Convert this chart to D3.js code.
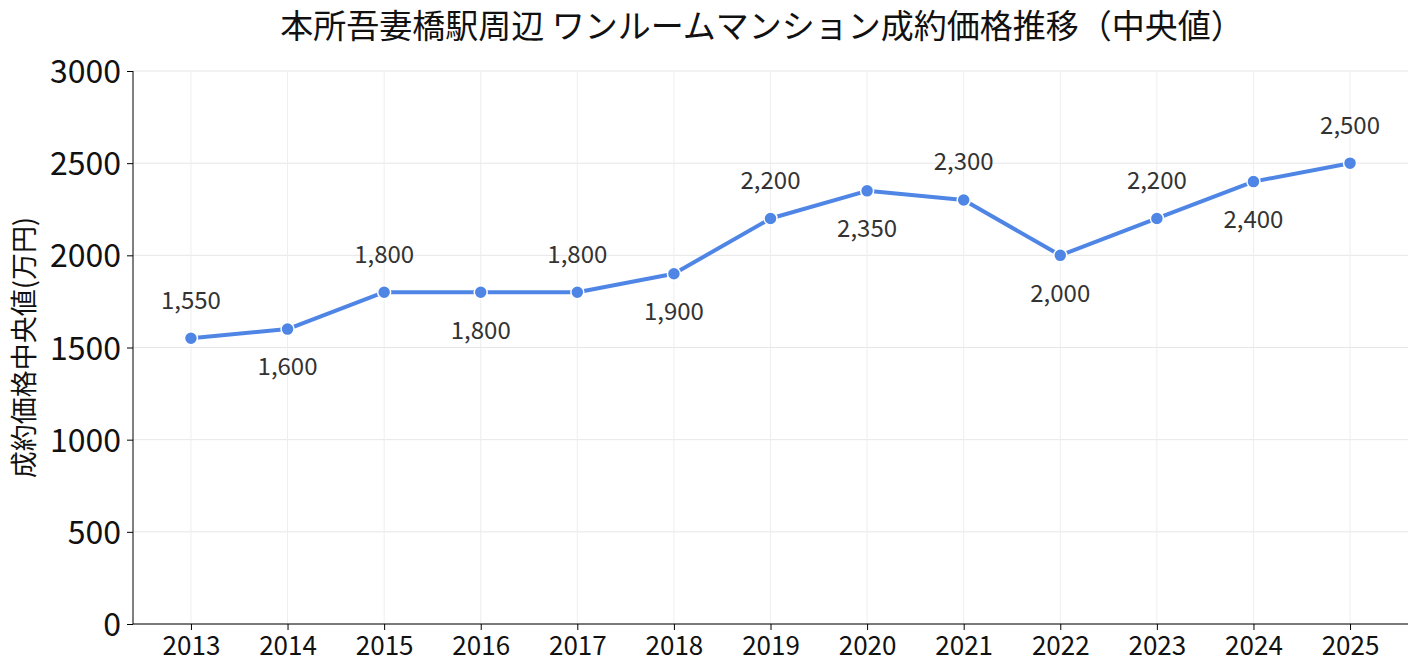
<!DOCTYPE html>
<html>
<head>
<meta charset="utf-8">
<script src="https://cdn.jsdelivr.net/npm/d3@7"></script>
<style>
  body { margin: 0; background: #fff; }
  text { font-family: "Noto Sans CJK JP", "Noto Sans", sans-serif; }
</style>
</head>
<body>
<div id="chart"></div>
<script>
// data
const years = ['2013', '2014', '2015', '2016', '2017', '2018', '2019', '2020', '2021', '2022', '2023', '2024', '2025'];
const medianPrices = [1550, 1600, 1800, 1800, 1800, 1900, 2200, 2350, 2300, 2000, 2200, 2400, 2500];
const yTicks = [0, 500, 1000, 1500, 2000, 2500, 3000];

const dimensions = {
  width: 1418,
  height: 671,
  margin: { top: 71, bottom: 47, left: 133, right: 10 }
};

const svg = d3.select('#chart').append('svg')
  .attr('width', dimensions.width)
  .attr('height', dimensions.height);

const bodyWidth = dimensions.width - dimensions.margin.left - dimensions.margin.right;
const bodyHeight = dimensions.height - dimensions.margin.top - dimensions.margin.bottom;

const xScale = d3.scalePoint().domain(years).range([0, bodyWidth]).padding(0.6);
const yScale = d3.scaleLinear().domain([0, 3000]).range([bodyHeight, 0]);

const body = svg.append('g')
  .attr('transform', `translate(${dimensions.margin.left},${dimensions.margin.top})`);

// grid
body.append('g').selectAll('line.hgrid').data(yTicks).enter().append('line')
  .attr('x1', 0).attr('x2', bodyWidth)
  .attr('y1', d => yScale(d)).attr('y2', d => yScale(d))
  .attr('stroke', '#e6e6e6').attr('stroke-width', 1);
body.append('g').selectAll('line.vgrid').data(years).enter().append('line')
  .attr('x1', d => xScale(d)).attr('x2', d => xScale(d))
  .attr('y1', 0).attr('y2', bodyHeight)
  .attr('stroke', '#eeeeee').attr('stroke-width', 1);

// axes
const xAxis = d3.axisBottom(xScale).tickSize(6).tickPadding(7);
const xg = body.append('g').attr('transform', `translate(0,${bodyHeight})`).call(xAxis);
xg.select('.domain').attr('stroke', '#000').attr('d', `M0,0H${bodyWidth}`);
xg.selectAll('text').attr('font-size', '26px').attr('fill', '#111');

const yAxis = d3.axisLeft(yScale).tickValues(yTicks).tickSize(6).tickPadding(6).tickFormat(d3.format('d'));
const yg = body.append('g').call(yAxis);
yg.select('.domain').attr('stroke', '#000').attr('d', `M0,0V${bodyHeight}`);
yg.selectAll('text').attr('font-size', '32px').attr('fill', '#111').attr('dy', '0.36em');

// line
const line = d3.line()
  .x((d, i) => xScale(years[i]))
  .y(d => yScale(d));
body.append('path')
  .datum(medianPrices)
  .attr('fill', 'none')
  .attr('stroke', '#4f86e6')
  .attr('stroke-width', 4)
  .attr('stroke-linejoin', 'round')
  .attr('d', line);

body.selectAll('circle.pt').data(medianPrices).enter().append('circle')
  .attr('class', 'pt')
  .attr('cx', (d, i) => xScale(years[i]))
  .attr('cy', d => yScale(d))
  .attr('r', 6.5)
  .attr('fill', '#4f86e6')
  .attr('stroke', '#fff')
  .attr('stroke-width', 1.5);

// value labels, alternating above / below
const fmt = d3.format(',');
body.selectAll('text.val').data(medianPrices).enter().append('text')
  .attr('class', 'val')
  .attr('x', (d, i) => xScale(years[i]))
  .attr('y', (d, i) => yScale(d) + (i % 2 === 0 ? -38 : 38))
  .attr('dy', '0.35em')
  .attr('text-anchor', 'middle')
  .attr('font-size', '24px')
  .attr('fill', '#333')
  .text(d => fmt(d));

// titles
svg.append('text')
  .attr('x', 762).attr('y', 38)
  .attr('text-anchor', 'middle')
  .attr('font-size', '33px')
  .attr('fill', '#111')
  .text('本所吾妻橋駅周辺 ワンルームマンション成約価格推移（中央値）');

svg.append('text')
  .attr('transform', `translate(25,${dimensions.margin.top + bodyHeight / 2}) rotate(-90)`)
  .attr('dy', '0.35em')
  .attr('text-anchor', 'middle')
  .attr('font-size', '27px')
  .attr('fill', '#111')
  .text('成約価格中央値(万円)');
</script>
</body>
</html>
